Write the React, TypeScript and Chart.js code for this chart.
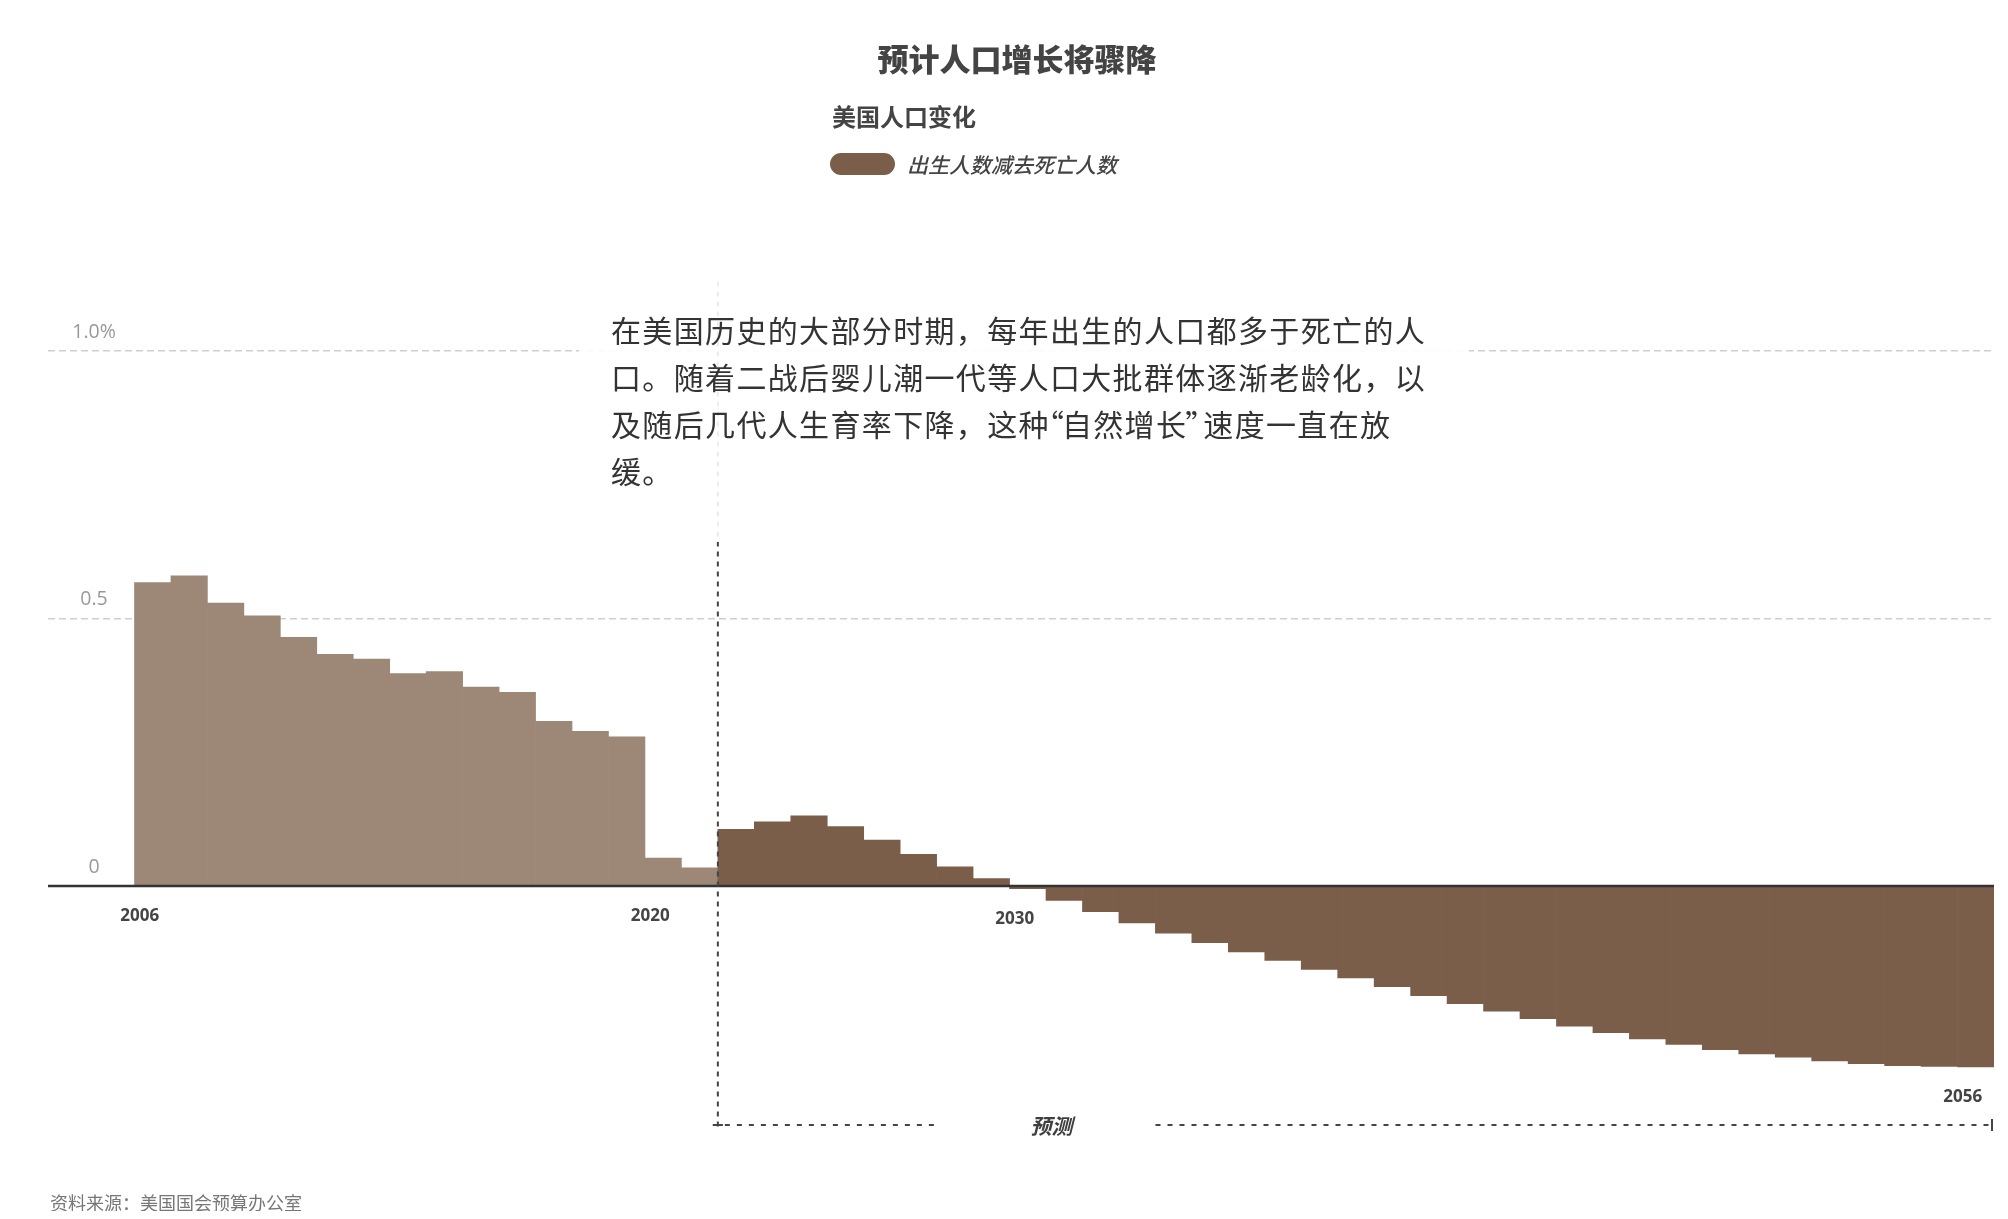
import React, { useEffect, useRef } from 'react';
import { Chart, registerables } from 'chart.js';

Chart.register(...registerables);

// ---------- data ----------
const historicalYears = [2006, 2007, 2008, 2009, 2010, 2011, 2012, 2013, 2014, 2015, 2016, 2017, 2018, 2019, 2020, 2021];
const historicalValues = [0.567, 0.58, 0.529, 0.505, 0.465, 0.433, 0.424, 0.397, 0.401, 0.372, 0.362, 0.308, 0.289, 0.279, 0.052, 0.034];

const forecastYears = [
  2022, 2023, 2024, 2025, 2026, 2027, 2028, 2029, 2030, 2031, 2032, 2033, 2034, 2035, 2036, 2037, 2038,
  2039, 2040, 2041, 2042, 2043, 2044, 2045, 2046, 2047, 2048, 2049, 2050, 2051, 2052, 2053, 2054, 2055, 2056,
];
const forecastValues = [
  0.106, 0.12, 0.131, 0.111, 0.086, 0.059, 0.036, 0.014, -0.005, -0.027, -0.048, -0.069, -0.088, -0.106,
  -0.123, -0.139, -0.156, -0.172, -0.188, -0.205, -0.22, -0.234, -0.248, -0.262, -0.274, -0.286, -0.296,
  -0.306, -0.314, -0.32, -0.327, -0.332, -0.336, -0.337, -0.338,
];

const yTickValues = [0, 0.5, 1.0];
const yTickLabels = ['0', '0.5', '1.0%'];
const xLabelYears = [2006, 2020, 2030, 2056];

const titleText = '预计人口增长将骤降';
const subtitleText = '美国人口变化';
const seriesName = '出生人数减去死亡人数';
const forecastText = '预测';
const forecastLabelYear = 2030.65;
const annotationLines = [
  '在美国历史的大部分时期，每年出生的人口都多于死亡的人',
  '口。随着二战后婴儿潮一代等人口大批群体逐渐老龄化，以',
  '及随后几代人生育率下降，这种“自然增长”速度一直在放',
  '缓。',
];
const sourceText = '资料来源：美国国会预算办公室';

// ---------- styles ----------
const HIST_COLOR = '#9d8878';
const FORE_COLOR = '#7b5e4a';
const CJK = '"Noto Sans CJK SC", "Noto Sans", sans-serif';
const LATIN = '"Open Sans", "Noto Sans", sans-serif';

const overlayPlugin = {
  id: 'overlayPlugin',
  afterDatasetsDraw(chart: any) {
    const { ctx, chartArea: ca, scales } = chart;
    const x = scales.x;
    const y = scales.y;
    ctx.save();

    // zero baseline
    const y0 = y.getPixelForValue(0);
    ctx.setLineDash([]);
    ctx.strokeStyle = '#333333';
    ctx.lineWidth = 2.5;
    ctx.beginPath();
    ctx.moveTo(ca.left, y0);
    ctx.lineTo(ca.right, y0);
    ctx.stroke();

    // forecast divider
    const xf = x.getPixelForValue(forecastYears[0] - 0.5);
    ctx.strokeStyle = '#444444';
    ctx.lineWidth = 2;
    ctx.setLineDash([5, 5]);
    ctx.beginPath();
    ctx.moveTo(xf, ca.top);
    ctx.lineTo(xf, ca.bottom + 4);
    ctx.stroke();

    // forecast bracket
    const yb = ca.bottom - 1.75;
    const xe = x.getPixelForValue(forecastYears[forecastYears.length - 1] + 0.5) - 2;
    const xl = x.getPixelForValue(forecastLabelYear);
    ctx.setLineDash([5, 7]);
    ctx.beginPath();
    ctx.moveTo(xf - 5, yb);
    ctx.lineTo(xl - 114, yb);
    ctx.stroke();
    ctx.beginPath();
    ctx.moveTo(xl + 104, yb);
    ctx.lineTo(xe, yb);
    ctx.stroke();
    ctx.setLineDash([]);
    ctx.beginPath();
    ctx.moveTo(xf - 5, yb);
    ctx.lineTo(xf + 5, yb);
    ctx.stroke();
    ctx.beginPath();
    ctx.moveTo(xe, yb - 6);
    ctx.lineTo(xe, yb + 6);
    ctx.stroke();

    ctx.fillStyle = '#3f3f3f';
    ctx.font = `italic bold 21px ${CJK}`;
    ctx.textAlign = 'center';
    ctx.textBaseline = 'middle';
    ctx.fillText(forecastText, xl, yb + 1);

    // x labels
    const allYears = [...historicalYears, ...forecastYears];
    const allValues = [...historicalValues, ...forecastValues];
    ctx.font = `bold 17px ${LATIN}`;
    ctx.fillStyle = '#444444';
    xLabelYears.forEach((yr) => {
      const v = allValues[allYears.indexOf(yr)];
      const bottom = Math.max(y0, y.getPixelForValue(Math.min(0, v)));
      ctx.fillText(String(yr), x.getPixelForValue(yr) - 13, bottom + 30);
    });

    // y labels
    ctx.font = `19.5px ${LATIN}`;
    ctx.fillStyle = '#999999';
    yTickValues.forEach((v, i) => {
      ctx.fillText(yTickLabels[i], ca.left + 46, y.getPixelForValue(v) - 19);
    });

    ctx.restore();
  },
};

function renderLine(ln: string) {
  const parts: React.ReactNode[] = [];
  let buf = '';
  let k = 0;
  for (const ch of ln) {
    if (ch === '“' || ch === '”') {
      if (buf) parts.push(<span key={k++}>{buf}</span>);
      buf = '';
      const open = ch === '“';
      parts.push(
        <span
          key={k++}
          style={{ letterSpacing: open ? '-2px' : '-12px', marginLeft: open ? -16 : -2 }}
        >
          {ch}
        </span>
      );
    } else {
      buf += ch;
    }
  }
  if (buf) parts.push(<span key={k++}>{buf}</span>);
  return parts;
}

export default function App() {
  const canvasRef = useRef<HTMLCanvasElement | null>(null);

  useEffect(() => {
    const canvas = canvasRef.current;
    if (!canvas) return;
    const years = [...historicalYears, ...forecastYears];
    const values = [...historicalValues, ...forecastValues];
    const colors = years.map((yr) => (forecastYears.includes(yr) ? FORE_COLOR : HIST_COLOR));

    const chart = new Chart(canvas, {
      type: 'bar',
      data: {
        datasets: [
          {
            label: seriesName,
            data: years.map((yr, i) => ({ x: yr, y: values[i] })),
            backgroundColor: colors,
            borderWidth: 0,
            barPercentage: 1,
            categoryPercentage: 1,
          },
        ],
      },
      options: {
        animation: false,
        responsive: false,
        maintainAspectRatio: false,
        layout: { padding: { left: 40, right: 6, top: 273.5, bottom: 84.25 } },
        plugins: {
          legend: { display: false },
          tooltip: { enabled: false },
          title: { display: false },
        },
        scales: {
          x: {
            type: 'linear',
            display: false,
            offset: false,
            min: 2003.128,
            max: 2056.5,
          },
          y: {
            type: 'linear',
            min: -0.45,
            max: 1.13,
            afterBuildTicks: (axis: any) => {
              axis.ticks = yTickValues.map((v) => ({ value: v }));
            },
            afterFit: (axis: any) => {
              axis.width = 0;
            },
            ticks: { display: false },
            grid: {
              color: (c: any) => (c.tick && c.tick.value === 0 ? 'rgba(0,0,0,0)' : '#cfcfcf'),
              lineWidth: 1.5,
              drawTicks: false,
            },
            border: { display: false, dash: [7, 4] },
          },
        },
      } as any,
      plugins: [overlayPlugin],
    });
    return () => chart.destroy();
  }, []);

  return (
    <div style={{ position: 'relative', width: 1992, height: 1203, background: '#ffffff' }}>
      <canvas ref={canvasRef} width={1992} height={1203} style={{ position: 'absolute', left: 0, top: 0, width: 1992, height: 1203 }} />

      <div
        style={{
          position: 'absolute', left: 1009, top: 48.5, transform: 'translate(-50%, -50%)',
          fontFamily: CJK, fontWeight: 900, fontSize: 31, lineHeight: '31px', color: '#444', whiteSpace: 'nowrap',
        }}
      >
        {titleText}
      </div>

      <div
        style={{
          position: 'absolute', left: 824, top: 95.5, fontFamily: CJK, fontWeight: 700, fontSize: 24,
          lineHeight: '24px', color: '#444', whiteSpace: 'nowrap',
        }}
      >
        {subtitleText}
      </div>

      <div style={{ position: 'absolute', left: 822, top: 145, width: 65, height: 22, borderRadius: 11, background: FORE_COLOR }} />
      <div
        style={{
          position: 'absolute', left: 899, top: 144.5, fontFamily: CJK, fontStyle: 'italic', fontWeight: 500,
          fontSize: 21, lineHeight: '22px', color: '#444', whiteSpace: 'nowrap',
        }}
      >
        {seriesName}
      </div>

      <div
        style={{
          position: 'absolute', left: 571, top: 272, width: 890, height: 262, background: 'rgba(255,255,255,0.9)',
          boxSizing: 'border-box', paddingLeft: 32, paddingTop: 25.5,
        }}
      >
        {annotationLines.map((ln, i) => (
          <div
            key={i}
            style={{
              fontFamily: CJK, fontWeight: 400, fontSize: 30, lineHeight: '47px', letterSpacing: '1.35px',
              color: '#333', whiteSpace: 'nowrap',
            }}
          >
            {renderLine(ln)}
          </div>
        ))}
      </div>

      <div
        style={{
          position: 'absolute', left: 42, top: 1183.5, fontFamily: CJK, fontSize: 18, lineHeight: '20px',
          color: '#777', whiteSpace: 'nowrap',
        }}
      >
        {sourceText}
      </div>
    </div>
  );
}
